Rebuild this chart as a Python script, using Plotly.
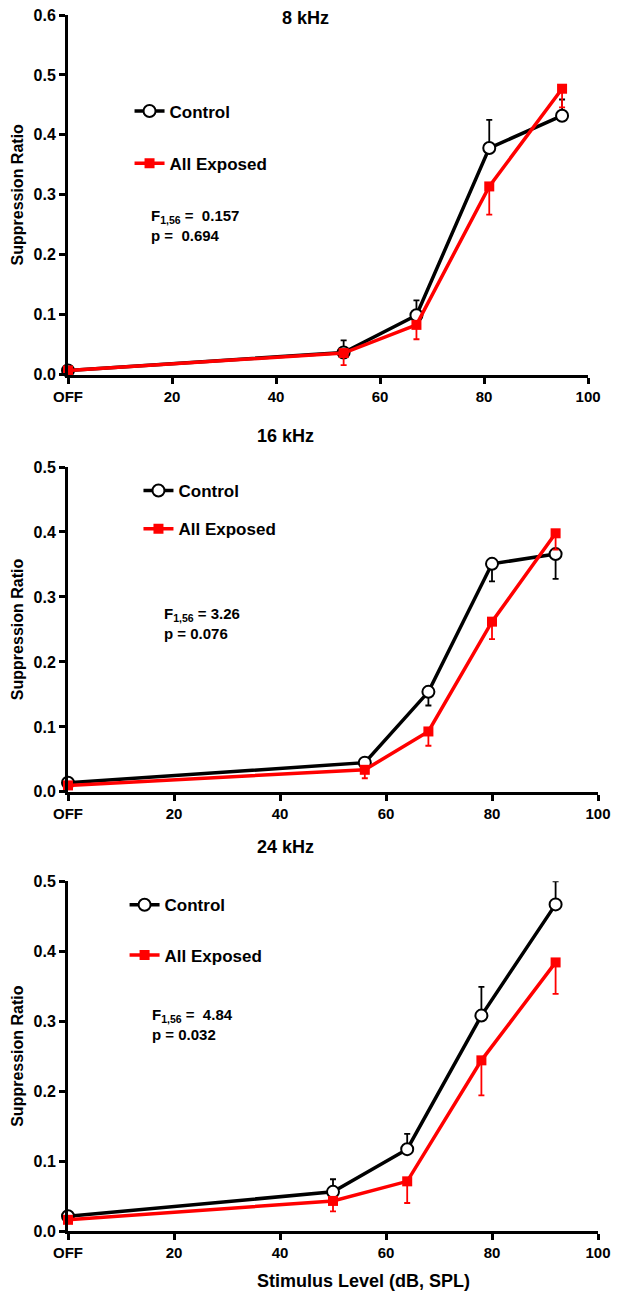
import plotly.graph_objects as go

# --- data ---
x8 = [0, 53, 67, 81, 95]
ctrl8 = [0.007, 0.037, 0.099, 0.378, 0.432]
ctrl8_err = [0.0, 0.020, 0.025, 0.047, 0.027]
exp8 = [0.007, 0.036, 0.083, 0.314, 0.477]
exp8_err = [0.0, 0.020, 0.024, 0.047, 0.031]

x16 = [0, 56, 68, 80, 92]
ctrl16 = [0.014, 0.045, 0.154, 0.351, 0.366]
ctrl16_err = [0.0, 0.0, 0.021, 0.027, 0.038]
exp16 = [0.010, 0.034, 0.093, 0.262, 0.398]
exp16_err = [0.0, 0.013, 0.022, 0.027, 0.025]

x24 = [0, 50, 64, 78, 92]
ctrl24 = [0.021, 0.056, 0.117, 0.308, 0.467]
ctrl24_err = [0.0, 0.018, 0.022, 0.041, 0.033]
exp24 = [0.016, 0.043, 0.071, 0.244, 0.384]
exp24_err = [0.0, 0.015, 0.031, 0.050, 0.045]

tick_vals = [0, 20, 40, 60, 80, 100]
tick_text = ["OFF", "20", "40", "60", "80", "100"]
titles = ["8 kHz", "16 kHz", "24 kHz"]
stats = ["F<sub>1,56</sub> =  0.157<br>p =  0.694",
         "F<sub>1,56</sub> = 3.26<br>p = 0.076",
         "F<sub>1,56</sub> =  4.84<br>p = 0.032"]

W, H = 618, 1294
L, R, T, B = 68, 16, 7, 63
PW, PH = W - L - R, H - T - B

def px(x):
    return (x - L) / PW

def py(y):
    return (H - B - y) / PH

FONT = "Liberation Sans, Arial, sans-serif"
BLACK = "#000000"
RED = "#ff0000"

fig = go.Figure()

panels = [
    (x8, ctrl8, ctrl8_err, exp8, exp8_err, True, "", "legend"),
    (x16, ctrl16, ctrl16_err, exp16, exp16_err, False, "2", "legend2"),
    (x24, ctrl24, ctrl24_err, exp24, exp24_err, True, "3", "legend3"),
]

for xs, c, ce, e, ee, ctrl_up, ax, leg in panels:
    zeros = [0] * len(ce)
    # control error bars point up in 8 and 24 kHz, down in 16 kHz
    if ctrl_up:
        cerr = dict(type="data", symmetric=False, array=ce, arrayminus=zeros,
                    color=BLACK, thickness=1.8, width=3)
    else:
        cerr = dict(type="data", symmetric=False, array=zeros, arrayminus=ce,
                    color=BLACK, thickness=1.8, width=3)
    fig.add_trace(go.Scatter(
        x=xs, y=c, mode="lines+markers", name="Control", legend=leg, legendgroup="c" + ax,
        line=dict(color=BLACK, width=3.5),
        marker=dict(symbol="circle", size=12, color="white", line=dict(color=BLACK, width=2)),
        error_y=cerr, xaxis="x" + ax, yaxis="y" + ax, cliponaxis=False))
    fig.add_trace(go.Scatter(
        x=xs, y=e, mode="lines+markers", name="All Exposed", legend=leg, legendgroup="e" + ax,
        line=dict(color=RED, width=3.5),
        marker=dict(symbol="square", size=10, color=RED),
        error_y=dict(type="data", symmetric=False, array=[0] * len(ee), arrayminus=ee,
                     color=RED, thickness=1.8, width=3),
        xaxis="x" + ax, yaxis="y" + ax, cliponaxis=False))

axis_common = dict(showline=True, linecolor=BLACK, linewidth=3, ticks="outside",
                   ticklen=6, tickwidth=2.5, tickcolor=BLACK, showgrid=False, zeroline=False)

xdoms = [[0, px(592)], [0, px(602)], [0, px(602)]]
ydoms = [[py(369), py(7)], [py(789), py(462)], [py(1231), py(879)]]
ymaxes = [0.6, 0.5, 0.5]

for i, ax in enumerate(["", "2", "3"]):
    fig.layout["xaxis" + ax] = dict(axis_common, domain=xdoms[i], range=[0, 100],
                                    tickvals=tick_vals, ticktext=tick_text,
                                    anchor="y" + ax,
                                    tickfont=dict(family=FONT, size=15, color=BLACK, weight="bold"))
    fig.layout["yaxis" + ax] = dict(axis_common, domain=ydoms[i], range=[0, ymaxes[i]],
                                    dtick=0.1, tickformat=".1f", anchor="x" + ax,
                                    tickfont=dict(family=FONT, size=16, color=BLACK, weight="bold"),
                                    title=dict(text="Suppression Ratio", standoff=6,
                                               font=dict(family=FONT, size=16, color=BLACK,
                                                         weight="bold")))

# panel titles
title_pos = [(307, 10), (287, 431), (287, 844)]
for t, (tx, ty) in zip(titles, title_pos):
    fig.add_annotation(text=t, x=px(tx), y=py(ty), xref="paper", yref="paper",
                       showarrow=False, xanchor="center", yanchor="middle",
                       font=dict(family=FONT, size=18, color=BLACK, weight="bold"))

# x-axis title under the last panel
fig.add_annotation(text="Stimulus Level (dB, SPL)", x=px(366), y=py(1281),
                   xref="paper", yref="paper", showarrow=False,
                   xanchor="center", yanchor="middle",
                   font=dict(family=FONT, size=18, color=BLACK, weight="bold"))

# statistics text
stat_pos = [(150, 219), (163, 620), (151, 1023)]
for s, (sx, sy) in zip(stats, stat_pos):
    fig.add_annotation(text=s, x=px(sx), y=py(sy), xref="paper", yref="paper",
                       showarrow=False, xanchor="left", yanchor="middle", align="left",
                       font=dict(family=FONT, size=15, color=BLACK, weight="bold"))

legend_font = dict(family=FONT, size=17, color=BLACK, weight="bold")
legend_cfg = [(130, 86, 27), (139, 468, 13), (125, 885, 25)]
for name, (lx, ly, gap) in zip(["legend", "legend2", "legend3"], legend_cfg):
    fig.layout[name] = dict(x=px(lx), y=py(ly), xanchor="left", yanchor="top",
                            font=legend_font, bgcolor="rgba(0,0,0,0)", itemwidth=30,
                            tracegroupgap=gap, traceorder="grouped")

fig.update_layout(width=W, height=H, margin=dict(l=L, r=R, t=T, b=B),
                  paper_bgcolor="white", plot_bgcolor="white", showlegend=True)

fig.write_html("out.html", config={"displayModeBar": False},
               post_script="document.body.style.margin='0';document.body.style.overflow='hidden';")
